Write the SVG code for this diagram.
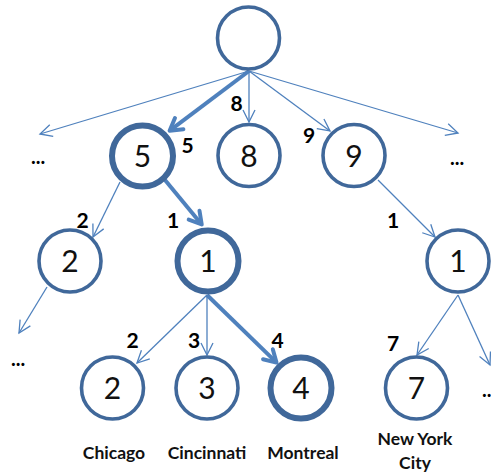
<svg xmlns="http://www.w3.org/2000/svg" width="491" height="472" viewBox="0 0 491 472">
  <style>
    .node { fill: #ffffff; stroke: #40689A; stroke-width: 3.6; }
    .node.hot { stroke-width: 6; }
    .num { font-family: Lato, "Liberation Sans", sans-serif; font-size: 30px; fill: #111; text-anchor: middle; }
    .edge { fill: none; stroke: #4F81BD; stroke-width: 1.3; marker-end: url(#open); }
    .edge.hot { stroke-width: 4; marker-end: url(#openBold); }
    .w { font-family: Lato, "Liberation Sans", sans-serif; font-size: 21px; font-weight: bold; fill: #000; text-anchor: middle; }
    .city { font-family: Lato, "Liberation Sans", sans-serif; font-size: 17.5px; font-weight: bold; fill: #111; text-anchor: middle; }
    .more { font-family: Lato, "Liberation Sans", sans-serif; font-size: 20px; font-weight: bold; fill: #000; }
  </style>
  <defs>
    <marker id="open" viewBox="0 0 14 14" refX="13" refY="7" markerWidth="14" markerHeight="14" markerUnits="userSpaceOnUse" orient="auto" overflow="visible">
      <path d="M1,1 L13,7 L1,13" fill="none" stroke="#4F81BD" stroke-width="1.3"/>
    </marker>
    <marker id="openBold" viewBox="0 0 20 20" refX="14" refY="10" markerWidth="20" markerHeight="20" markerUnits="userSpaceOnUse" orient="auto" overflow="visible">
      <path d="M3,3 L15,10 L3,17" fill="none" stroke="#4F81BD" stroke-width="4" stroke-linejoin="round" stroke-linecap="round"/>
    </marker>
  </defs>

  <g id="connectors">
    <path class="edge" d="M249,71 L40,134"/>
    <path class="edge hot" d="M249,71 L170.4,130.2"/>
    <path class="edge" d="M249,71 L249,122"/>
    <path class="edge" d="M249,71 L330,131"/>
    <path class="edge" d="M249,71 L458,133"/>
    <path class="edge" d="M120,182 L93,237"/>
    <path class="edge hot" d="M165,180 L201.1,223.7"/>
    <path class="edge" d="M378,180 L435,237"/>
    <path class="edge" d="M47,287 L19,333"/>
    <path class="edge" d="M207,295 L137,363"/>
    <path class="edge" d="M207,295 L207,355"/>
    <path class="edge hot" d="M207,295 L275.8,361.9"/>
    <path class="edge" d="M458,295 L417,355"/>
    <path class="edge" d="M458,295 L490,365"/>
  </g>

  <g id="edge-weights">
    <text class="w" x="236.5" y="111">8</text>
    <text class="w" x="187.5" y="153">5</text>
    <text class="w" x="309" y="143">9</text>
    <text class="w" x="82.5" y="228">2</text>
    <text class="w" x="173" y="228">1</text>
    <text class="w" x="393" y="228">1</text>
    <text class="w" x="132.5" y="348">2</text>
    <text class="w" x="194" y="348">3</text>
    <text class="w" x="277.5" y="348">4</text>
    <text class="w" x="393" y="351">7</text>
  </g>

  <g id="ellipses">
    <text class="more" x="31" y="164">...</text>
    <text class="more" x="450" y="165">...</text>
    <text class="more" x="11" y="366">...</text>
    <text class="more" x="482" y="397">...</text>
  </g>

  <g id="root"><circle class="node" cx="248.5" cy="38" r="31"/></g>

  <g id="n5"><circle class="node hot" cx="142.5" cy="156" r="30.5"/><text class="num" x="142.5" y="167">5</text></g>
  <g id="n8"><circle class="node" cx="249" cy="155.5" r="31"/><text class="num" x="249" y="166.5">8</text></g>
  <g id="n9"><circle class="node" cx="354" cy="155.5" r="31"/><text class="num" x="354" y="166.5">9</text></g>

  <g id="n5-2"><circle class="node" cx="70" cy="261" r="31"/><text class="num" x="70" y="272">2</text></g>
  <g id="n5-1"><circle class="node hot" cx="208" cy="261" r="30.5"/><text class="num" x="208" y="272">1</text></g>
  <g id="n9-1"><circle class="node" cx="458" cy="261" r="31"/><text class="num" x="458" y="272">1</text></g>

  <g id="chicago"><circle class="node" cx="112.5" cy="388" r="31"/><text class="num" x="112.5" y="399">2</text><text class="city" x="114" y="459">Chicago</text></g>
  <g id="cincinnati"><circle class="node" cx="207" cy="388" r="31"/><text class="num" x="207" y="399">3</text><text class="city" x="207" y="459">Cincinnati</text></g>
  <g id="montreal"><circle class="node hot" cx="301" cy="388" r="30.5"/><text class="num" x="301" y="399">4</text><text class="city" x="303" y="459">Montreal</text></g>
  <g id="nyc"><circle class="node" cx="416.5" cy="388" r="31"/><text class="num" x="416.5" y="399">7</text><text class="city" x="415" y="445">New York</text><text class="city" x="415" y="469">City</text></g>
</svg>
